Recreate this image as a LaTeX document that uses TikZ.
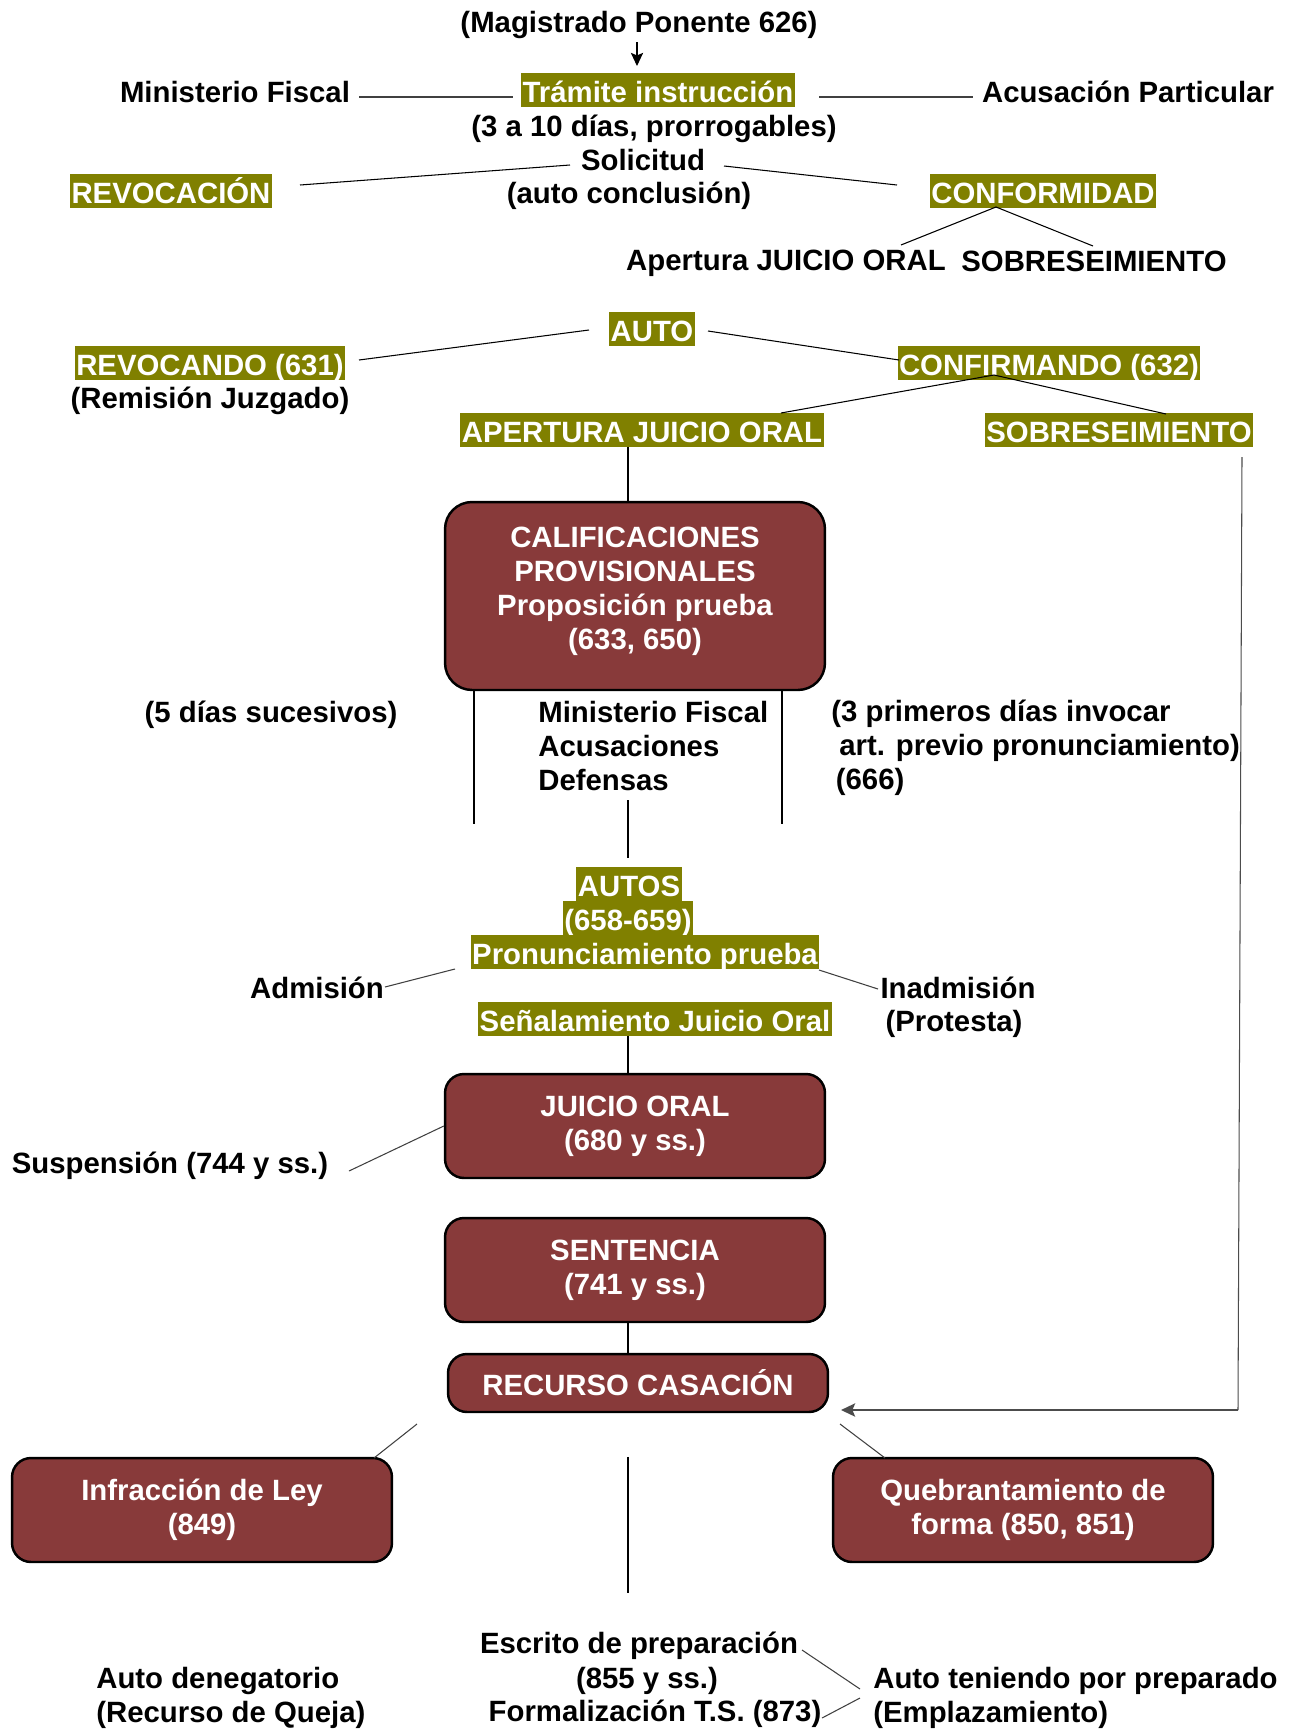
\documentclass[tikz,border=0pt]{standalone}
\usepackage{fontspec}
\setmainfont{Liberation Sans}
\usetikzlibrary{arrows.meta}
\definecolor{oliva}{RGB}{128,128,0}
\definecolor{granate}{RGB}{136,58,58}
\begin{document}
\begin{tikzpicture}[x=0.02cm,y=-0.02cm,
    every node/.style={font=\fontsize{16.7}{19.3}\selectfont\bfseries,inner sep=0pt},
    etiqueta/.style={fill=oliva,text=white,inner xsep=0.03cm,inner ysep=0pt,text height=0.58cm,text depth=0.1cm},
    caja/.style={draw=black,line width=1.4pt,fill=granate,text=white,align=center,rounded corners=0.38cm,minimum width=7.6cm,minimum height=2.08cm},
    linea/.style={line width=0.6pt},
    flecha/.style={line width=0.6pt,-{Stealth[length=7.5pt,width=7pt,inset=1.5pt]}}]
    \useasboundingbox (0,0) rectangle (1295,1731);
    \coordinate (eje) at (628,0);

    \node (mag) at (639,25) {(Magistrado Ponente 626)};
    \node[etiqueta] (tram) at (658,90) {Trámite instrucción};
    \node (mf) at (235,92) {Ministerio Fiscal};
    \node (ap) at (1128,92) {Acusación Particular};
    \node (plazo) at (654,129) {(3 a 10 días, prorrogables)};
    \node (sol) at (643,160) {Solicitud};
    \node (concl) at (629,196) {(auto conclusión)};
    \node[etiqueta] (revoc) at (171,191) {REVOCACIÓN};
    \node[etiqueta] (conf) at (1043,191) {CONFORMIDAD};
    \node (apjo) at (786,263) {Apertura JUICIO ORAL};
    \node (sobr1) at (1094,261) {SOBRESEIMIENTO};

    \node[etiqueta] (auto) at (652,329) {AUTO};
    \node[etiqueta] (revocando) at (210,363) {REVOCANDO (631)};
    \node (remision) at (210,401) {(Remisión Juzgado)};
    \node[etiqueta] (confirmando) at (1049,363) {CONFIRMANDO (632)};
    \node[etiqueta] (apertura) at (642,430) {APERTURA JUICIO ORAL};
    \node[etiqueta] (sobr) at (1119,430) {SOBRESEIMIENTO};

    \node[caja,minimum height=3.76cm,rounded corners=0.54cm,text depth=0.31cm] (calif) at (635,596)
        {CALIFICACIONES\\PROVISIONALES\\Proposición prueba\\(633, 650)};
    \node (dias) at (271,715) {(5 días sucesivos)};
    \node[align=left,anchor=west] (partes) at (538,746) {Ministerio Fiscal\\Acusaciones\\Defensas};
    \node[align=left,anchor=west] (invocar) at (831,748)
        {(3 primeros días invocar\\\hspace*{0.16cm}art. previo pronunciamiento)\\\hspace*{0.09cm}(666)};

    \node[etiqueta] (autos) at (629,884) {AUTOS};
    \node[etiqueta] (autosnum) at (628,918) {(658-659)};
    \node[etiqueta] (pron) at (645,952) {Pronunciamiento prueba};
    \node (adm) at (317,988) {Admisión};
    \node (inadm) at (958,988) {Inadmisión};
    \node (prot) at (954,1024) {(Protesta)};
    \node[etiqueta] (senal) at (655,1019) {Señalamiento Juicio Oral};

    \node[caja] (juicio) at (635,1126) {JUICIO ORAL\\(680 y ss.)};
    \node (susp) at (170,1166) {Suspensión (744 y ss.)};
    \node[caja] (sent) at (635,1270) {SENTENCIA\\(741 y ss.)};
    \node[caja,minimum height=1.16cm] (recurso) at (638,1383) {RECURSO CASACIÓN};
    \node[caja] (infr) at (202,1510) {Infracción de Ley\\(849)};
    \node[caja] (queb) at (1023,1510) {Quebrantamiento de\\forma (850, 851)};

    \node (escrito) at (639,1646) {Escrito de preparación};
    \node (n855) at (647,1681) {(855 y ss.)};
    \node (formal) at (655,1714) {Formalización T.S. (873)};
    \node[align=left,anchor=west] (deneg) at (96,1698) {Auto denegatorio\\(Recurso de Queja)};
    \node[align=left,anchor=west] (tenido) at (873,1698) {Auto teniendo por preparado\\(Emplazamiento)};

    \coordinate (mag-a) at (637,42);
    \coordinate (mag-b) at (637,66);
    \coordinate (mf-a) at (359,97);
    \coordinate (mf-b) at (513,97);
    \coordinate (ap-a) at (819,97);
    \coordinate (ap-b) at (973,97);
    \coordinate (rev-a) at (300,185);
    \coordinate (rev-b) at (570,165);
    \coordinate (conf-a) at (724,166);
    \coordinate (conf-b) at (897,185);
    \coordinate (conf-c) at (996,207);
    \coordinate (conf-d) at (901,245);
    \coordinate (conf-e) at (1093,246);
    \coordinate (auto-a) at (589,330);
    \coordinate (auto-b) at (359,360);
    \coordinate (auto-c) at (708,331);
    \coordinate (auto-d) at (899,360);
    \coordinate (cfm-c) at (994,375);
    \coordinate (cfm-d) at (781,413);
    \coordinate (cfm-e) at (1166,414);
    \coordinate (sob-a) at (1242,457);
    \coordinate (sob-b) at (1238,1410);
    \coordinate (sob-c) at (841,1410);
    \coordinate (cal-l) at (474,824);
    \coordinate (cal-r) at (782,824);
    \coordinate (cal-m1) at (628,800);
    \coordinate (cal-m2) at (628,858);
    \coordinate (adm-a) at (385,987);
    \coordinate (adm-b) at (455,969);
    \coordinate (inad-a) at (819,970);
    \coordinate (inad-b) at (878,989);
    \coordinate (susp-a) at (349,1171);
    \coordinate (rec-a) at (417,1424);
    \coordinate (rec-b) at (374,1458);
    \coordinate (rec-c) at (840,1424);
    \coordinate (rec-d) at (885,1458);
    \coordinate (eje-b) at (628,1593);
    \coordinate (esc-a) at (802,1650);
    \coordinate (esc-b) at (860,1689);
    \coordinate (for-a) at (822,1718);
    \coordinate (for-b) at (860,1698);

    \draw[flecha] (mag-a) -- (mag-b);
    \draw[linea,black!75] (mf-a) -- (mf-b);
    \draw[linea,black!75] (ap-a) -- (ap-b);
    \draw[linea] (rev-a) -- (rev-b);
    \draw[linea] (conf-a) -- (conf-b);
    \draw[linea] (conf-d) -- (conf-c) -- (conf-e);
    \draw[linea] (auto-a) -- (auto-b);
    \draw[linea] (auto-c) -- (auto-d);
    \draw[linea] (cfm-d) -- (cfm-c) -- (cfm-e);
    \draw[linea] (eje |- apertura.south) -- (eje |- calif.north);
    \draw[linea,black!70] (sob-a) -- (sob-b);
    \draw[line width=1.2pt,black!70,-{Stealth[length=8pt,width=7.5pt,inset=1.5pt]}] (sob-b) -- (sob-c);
    \draw[linea] (cal-l |- calif.south) -- (cal-l);
    \draw[linea] (cal-r |- calif.south) -- (cal-r);
    \draw[linea] (cal-m1) -- (cal-m2);
    \draw[linea,black!75] (adm-a) -- (adm-b);
    \draw[linea,black!75] (inad-a) -- (inad-b);
    \draw[linea] (eje |- senal.south) -- (eje |- juicio.north);
    \draw[linea,black!75] (susp-a) -- (juicio.west);
    \draw[linea] (eje |- sent.south) -- (eje |- recurso.north);
    \draw[linea,black!75] (rec-a) -- (rec-b);
    \draw[linea,black!75] (rec-c) -- (rec-d);
    \draw[linea] (eje |- infr.north) -- (eje-b);
    \draw[linea,black!75] (esc-a) -- (esc-b);
    \draw[linea,black!75] (for-a) -- (for-b);
\end{tikzpicture}
\end{document}
